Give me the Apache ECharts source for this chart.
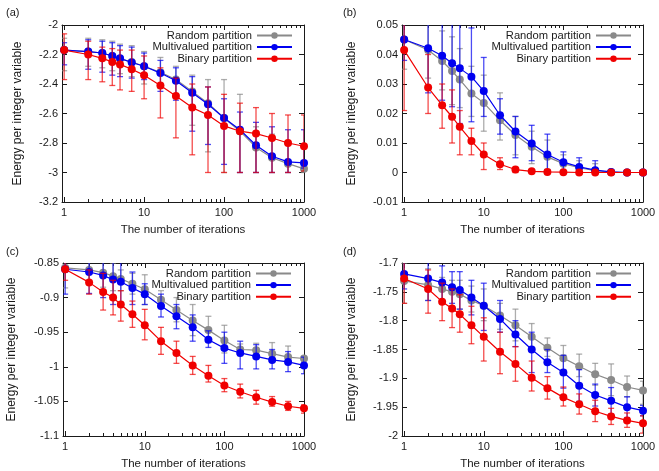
<!DOCTYPE html>
<html>
<head>
<meta charset="utf-8">
<script src="https://cdn.jsdelivr.net/npm/echarts@6/dist/echarts.min.js"></script>
<style>
html, body { margin: 0; padding: 0; background: #fff; }
#chart { width: 659px; height: 471px; }
</style>
</head>
<body>
<div id="chart"></div>
<script>
// x positions (number of iterations)
const iterations = [1, 2, 3, 4, 5, 7, 10, 16, 25, 40, 63, 100, 158, 251, 398, 631, 1000]
const seriesNames = ['Random partition', 'Multivalued partition', 'Binary partition']

// (a)
const aRandom = [-2.17, -2.18, -2.19, -2.21, -2.23, -2.25, -2.28, -2.32, -2.37, -2.45, -2.53, -2.63, -2.72, -2.83, -2.90, -2.94, -2.975]
const aRandomErr = [[-2.09, -2.31], [-2.09, -2.28], [-2.10, -2.29], [-2.11, -2.31], [-2.13, -2.33], [-2.14, -2.35], [-2.18, -2.40], [-2.22, -2.43], [-2.28, -2.49], [-2.34, -2.68], [-2.37, -2.86], [-2.37, -3.0], [-2.47, -3.0], [-2.69, -3.0], [-2.74, -3.0], [-2.79, -3.0], [-2.83, -3.0]]
const aMulti = [-2.17, -2.18, -2.19, -2.21, -2.226, -2.254, -2.28, -2.326, -2.378, -2.46, -2.537, -2.63, -2.71, -2.815, -2.89, -2.928, -2.935]
const aMultiErr = [[-2.12, -2.27], [-2.10, -2.30], [-2.11, -2.32], [-2.12, -2.34], [-2.14, -2.35], [-2.15, -2.36], [-2.19, -2.37], [-2.24, -2.45], [-2.29, -2.51], [-2.35, -2.72], [-2.42, -2.81], [-2.50, -2.945], [-2.59, -3.0], [-2.66, -3.0], [-2.69, -3.0], [-2.71, -3.0], [-2.71, -2.97]]
const aBinary = [-2.17, -2.20, -2.226, -2.25, -2.267, -2.30, -2.34, -2.41, -2.482, -2.56, -2.61, -2.684, -2.72, -2.736, -2.766, -2.80, -2.822]
const aBinaryErr = [[-2.06, -2.37], [-2.11, -2.37], [-2.15, -2.385], [-2.16, -2.41], [-2.17, -2.44], [-2.17, -2.45], [-2.21, -2.50], [-2.29, -2.63], [-2.36, -2.765], [-2.40, -2.88], [-2.42, -3.0], [-2.47, -3.0], [-2.53, -3.0], [-2.56, -3.0], [-2.60, -3.0], [-2.61, -3.0], [-2.61, -2.99]]

// (b)
const bRandom = [0.0451, 0.0415, 0.0378, 0.0344, 0.0315, 0.0268, 0.0236, 0.0177, 0.0127, 0.0087, 0.0053, 0.003, 0.0016, 0.0006, 0.0001, 0, 0]
const bRandomErr = [[0.035, 0.055], [0.032, 0.051], [0.028, 0.048], [0.023, 0.046], [0.022, 0.042], [0.019, 0.036], [0.014, 0.033], [0.011, 0.027], [0.006, 0.019], [0.003, 0.014], [0.001, 0.011], [0, 0.006], [0, 0.004], [0, 0.003], [0, 0.0005], [0, 0], [0, 0]]
const bMulti = [0.0451, 0.0421, 0.0396, 0.037, 0.0353, 0.0325, 0.0276, 0.0194, 0.0139, 0.0098, 0.0061, 0.0035, 0.0019, 0.0008, 0.0002, 0, 0]
const bMultiErr = [[0.038, 0.052], [0.027, 0.063], [0.0245, 0.063], [0.0223, 0.063], [0.0166, 0.063], [0.0172, 0.049], [0.019, 0.039], [0.013, 0.025], [0.005, 0.019], [0.004, 0.016], [0.001, 0.013], [0, 0.007], [0, 0.005], [0, 0.004], [0, 0.0005], [0, 0], [0, 0]]
const bBinary = [0.0415, 0.0288, 0.0228, 0.0189, 0.0155, 0.0107, 0.0061, 0.0028, 0.001, 0.0004, 0.0002, 0.0001, 0, 0, 0, 0, 0]
const bBinaryErr = [[0.021, 0.063], [0.020, 0.040], [0.015, 0.030], [0.010, 0.028], [0.006, 0.021], [0.006, 0.015], [0.001, 0.010], [0.001, 0.005], [0, 0.0015], [0, 0.0006], [0, 0.0002], [0, 0.0001], [0, 0], [0, 0], [0, 0], [0, 0], [0, 0]]

// (c)
const cRandom = [-0.857, -0.86, -0.864, -0.869, -0.873, -0.880, -0.888, -0.903, -0.918, -0.933, -0.947, -0.962, -0.975, -0.976, -0.981, -0.986, -0.988]
const cRandomErr = [[-0.83, -0.886], [-0.84, -0.88], [-0.845, -0.885], [-0.85, -0.89], [-0.86, -0.89], [-0.865, -0.895], [-0.867, -0.91], [-0.89, -0.915], [-0.90, -0.935], [-0.91, -0.955], [-0.927, -0.965], [-0.94, -0.98], [-0.967, -0.984], [-0.966, -0.985], [-0.965, -0.99], [-0.97, -0.995], [-0.985, -0.993]]
const cMulti = [-0.859, -0.863, -0.868, -0.874, -0.877, -0.886, -0.895, -0.912, -0.927, -0.943, -0.961, -0.973, -0.98, -0.985, -0.99, -0.993, -0.998]
const cMultiErr = [[-0.82, -0.895], [-0.83, -0.894], [-0.835, -0.90], [-0.84, -0.91], [-0.845, -0.91], [-0.863, -0.91], [-0.88, -0.91], [-0.895, -0.928], [-0.91, -0.945], [-0.925, -0.963], [-0.948, -0.972], [-0.95, -0.995], [-0.963, -1.003], [-0.968, -1.003], [-0.975, -1.003], [-0.978, -1.007], [-0.986, -1.01]]
const cBinary = [-0.859, -0.878, -0.892, -0.90, -0.910, -0.924, -0.940, -0.963, -0.980, -0.998, -1.013, -1.027, -1.036, -1.044, -1.051, -1.057, -1.060]
const cBinaryErr = [[-0.84, -0.875], [-0.86, -0.895], [-0.865, -0.918], [-0.875, -0.925], [-0.89, -0.934], [-0.905, -0.943], [-0.917, -0.961], [-0.943, -0.982], [-0.963, -0.995], [-0.985, -1.011], [-0.998, -1.022], [-1.017, -1.036], [-1.025, -1.045], [-1.034, -1.054], [-1.043, -1.057], [-1.05, -1.063], [-1.055, -1.067]]

// (d)
const dRandom = [-1.731, -1.738, -1.745, -1.75, -1.754, -1.765, -1.774, -1.791, -1.808, -1.828, -1.847, -1.865, -1.879, -1.893, -1.903, -1.915, -1.921]
const dRandomErr = [[-1.70, -1.77], [-1.71, -1.765], [-1.725, -1.77], [-1.73, -1.775], [-1.73, -1.78], [-1.74, -1.785], [-1.745, -1.80], [-1.77, -1.815], [-1.78, -1.835], [-1.805, -1.852], [-1.83, -1.862], [-1.843, -1.885], [-1.858, -1.897], [-1.874, -1.912], [-1.875, -1.93], [-1.896, -1.932], [-1.905, -1.945]]
const dMulti = [-1.719, -1.727, -1.734, -1.742, -1.747, -1.76, -1.774, -1.797, -1.824, -1.85, -1.872, -1.89, -1.913, -1.929, -1.939, -1.95, -1.956]
const dMultiErr = [[-1.69, -1.745], [-1.695, -1.765], [-1.705, -1.765], [-1.715, -1.77], [-1.715, -1.78], [-1.73, -1.79], [-1.735, -1.817], [-1.765, -1.82], [-1.80, -1.845], [-1.82, -1.89], [-1.85, -1.89], [-1.86, -1.917], [-1.885, -1.94], [-1.91, -1.948], [-1.916, -1.962], [-1.932, -1.968], [-1.947, -1.965]]
const dBinary = [-1.727, -1.745, -1.767, -1.779, -1.789, -1.808, -1.828, -1.854, -1.875, -1.899, -1.917, -1.933, -1.945, -1.957, -1.966, -1.973, -1.978]
const dBinaryErr = [[-1.68, -1.77], [-1.712, -1.787], [-1.735, -1.80], [-1.745, -1.812], [-1.755, -1.82], [-1.775, -1.84], [-1.795, -1.87], [-1.82, -1.892], [-1.845, -1.905], [-1.87, -1.922], [-1.897, -1.936], [-1.915, -1.948], [-1.927, -1.962], [-1.938, -1.975], [-1.952, -1.98], [-1.96, -1.985], [-1.965, -1.995]]

const colors = ['#8a8a8a', '#0000f0', '#f00000']
const font = "'Liberation Sans', Arial, sans-serif"
const ink = '#1a1a1a'

// panel layout + data
const panels = [
  { label: '(a)', labelPos: [1, 2], grid: { left: 62, top: 25, width: 242, height: 177 }, y: [-3.2, -2, 0.2], yGap: 38, legendRight: 366, legendTop: 30,
    data: [[aRandom, aRandomErr], [aMulti, aMultiErr], [aBinary, aBinaryErr]] },
  { label: '(b)', labelPos: [338, 2], grid: { left: 402, top: 25, width: 241, height: 177 }, y: [-0.01, 0.05, 0.01], yGap: 44, legendRight: 27, legendTop: 30,
    data: [[bRandom, bRandomErr], [bMulti, bMultiErr], [bBinary, bBinaryErr]] },
  { label: '(c)', labelPos: [1, 241], grid: { left: 63, top: 263, width: 241, height: 175 }, y: [-1.1, -0.85, 0.05], yGap: 45, legendRight: 367, legendTop: 268,
    data: [[cRandom, cRandomErr], [cMulti, cMultiErr], [cBinary, cBinaryErr]] },
  { label: '(d)', labelPos: [338, 241], grid: { left: 402, top: 263, width: 241, height: 175 }, y: [-2, -1.7, 0.05], yGap: 44, legendRight: 27, legendTop: 268,
    data: [[dRandom, dRandomErr], [dMulti, dMultiErr], [dBinary, dBinaryErr]] },
]

const chart = echarts.init(document.getElementById('chart'), null, { renderer: 'canvas' })

const isDecade = (v) => {
  const l = Math.log10(v)
  return Math.abs(l - Math.round(l)) < 1e-6 && v >= 1
}

const xAxes = []
const yAxes = []
const grids = []
const titles = []
const legends = []
const series = []

panels.forEach((p, i) => {
  grids.push(p.grid)
  titles.push({ text: p.label, left: p.labelPos[0], top: p.labelPos[1], textStyle: { fontSize: 11, fontWeight: 'normal', color: ink, fontFamily: font } })

  const xBase = {
    type: 'log', gridIndex: i, min: 0.94, max: 1000, logBase: 10,
    axisLine: { show: true, onZero: false, lineStyle: { color: ink, width: 1 } },
    axisTick: { show: true, inside: true, length: 5, lineStyle: { color: ink } },
    minorTick: { show: true, splitNumber: 9, length: 3, lineStyle: { color: ink } },
    splitLine: { show: false },
    minorSplitLine: { show: false },
  }
  xAxes.push(Object.assign({}, xBase, {
    position: 'bottom',
    name: 'The number of iterations', nameLocation: 'middle', nameGap: 22,
    nameTextStyle: { fontSize: 11.5, color: ink, fontFamily: font },
    axisLabel: { fontSize: 11, color: ink, fontFamily: font, margin: 5, formatter: (v) => (isDecade(v) ? String(Math.round(v)) : '') },
  }))
  xAxes.push(Object.assign({}, xBase, { position: 'top', axisLabel: { show: false } }))

  const yBase = {
    type: 'value', gridIndex: i, min: p.y[0], max: p.y[1], interval: p.y[2],
    axisLine: { show: true, onZero: false, lineStyle: { color: ink, width: 1 } },
    axisTick: { show: true, inside: true, length: 5, lineStyle: { color: ink } },
    splitLine: { show: false },
  }
  yAxes.push(Object.assign({}, yBase, {
    position: 'left',
    name: 'Energy per integer variable', nameLocation: 'middle', nameGap: p.yGap,
    nameTextStyle: { fontSize: 12, color: ink, fontFamily: font },
    axisLabel: { fontSize: 11, color: ink, fontFamily: font, margin: 4 },
  }))
  yAxes.push(Object.assign({}, yBase, { position: 'right', axisLabel: { show: false } }))

  p.data.forEach(([values, errs], k) => {
    const color = colors[k]
    // error bars
    series.push({
      type: 'custom',
      xAxisIndex: i * 2,
      yAxisIndex: i * 2,
      data: iterations.map((x, j) => [x, errs[j][0], errs[j][1]]),
      encode: { x: 0, y: [1, 2] },
      clip: true,
      silent: true,
      z: 2 + k * 2,
      renderItem: (params, api) => {
        const a = api.coord([api.value(0), api.value(1)])
        const b = api.coord([api.value(0), api.value(2)])
        const w = 3
        const style = { stroke: color, lineWidth: 1.3, opacity: 0.7 }
        return {
          type: 'group',
          children: [
            { type: 'line', shape: { x1: a[0], y1: a[1], x2: b[0], y2: b[1] }, style },
            { type: 'line', shape: { x1: a[0] - w, y1: a[1], x2: a[0] + w, y2: a[1] }, style },
            { type: 'line', shape: { x1: b[0] - w, y1: b[1], x2: b[0] + w, y2: b[1] }, style },
          ],
        }
      },
    })
    // mean line
    series.push({
      name: seriesNames[k],
      type: 'line',
      xAxisIndex: i * 2,
      yAxisIndex: i * 2,
      data: iterations.map((x, j) => [x, values[j]]),
      symbol: 'circle',
      symbolSize: 8,
      showAllSymbol: true,
      clip: true,
      z: 3 + k * 2,
      itemStyle: { color },
      lineStyle: { color, width: 1.2 },
      animation: false,
    })

    legends.push({
      data: [seriesNames[k]],
      orient: 'vertical',
      align: 'right',
      right: p.legendRight,
      top: p.legendTop + k * 11.6,
      padding: 0,
      itemWidth: 35,
      itemHeight: 8,
      selectedMode: false,
      textStyle: { fontSize: 11.2, color: ink, fontFamily: font },
    })
  })
})

chart.setOption({
  animation: false,
  backgroundColor: '#fff',
  textStyle: { fontFamily: font },
  title: titles,
  grid: grids,
  xAxis: xAxes,
  yAxis: yAxes,
  legend: legends,
  series,
})

window.addEventListener('resize', () => chart.resize())
</script>
</body>
</html>
